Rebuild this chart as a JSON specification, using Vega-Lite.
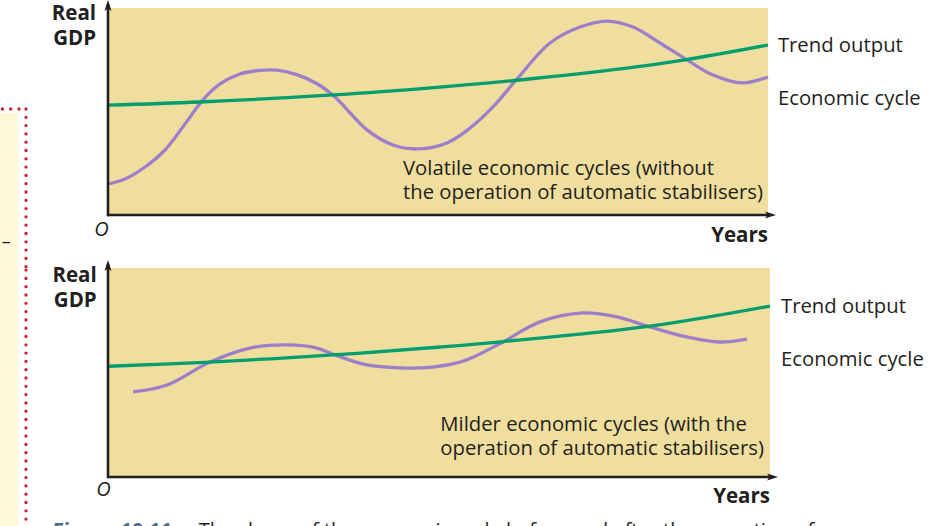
{
  "$schema": "https://vega.github.io/schema/vega-lite/v6.json",
  "background": "white",
  "padding": 0,
  "autosize": {"type": "pad"},
  "spacing": 53,
  "bounds": "flush",
  "config": {"view": {"stroke": null}, "font": "Open Sans"},
  "vconcat": [
    {
      "width": 660,
      "height": 207,
      "view": {"fill": "#F0DE9E", "stroke": null},
      "encoding": {
        "x": {"field": "x", "type": "quantitative", "scale": {"domain": [0, 100], "nice": false, "zero": false}, "axis": null},
        "y": {"field": "y", "type": "quantitative", "scale": {"domain": [0, 100], "nice": false, "zero": false}, "axis": null}
      },
      "layer": [
        {
          "data": {"values": [{"x": -16.36, "x2": -13.64, "y": 49.3, "y2": -25.6}]},
          "mark": {"type": "rect", "fill": "#FEF8D8"},
          "encoding": {"x2": {"field": "x2"}, "y2": {"field": "y2"}}
        },
        {
          "data": {"values": [{"x": -16.0, "x2": -12.42, "y": 51.2, "y2": 51.2}, {"x": -12.42, "x2": -12.42, "y": 51.2, "y2": -25.6}]},
          "mark": {"type": "rule", "color": "#D0212B", "strokeWidth": 3.3, "strokeDash": [0, 8.3], "strokeCap": "round"},
          "encoding": {"x2": {"field": "x2"}, "y2": {"field": "y2"}}
        },
        {
          "data": {"values": [{"x": -15.4, "y": -13.5, "label": "–"}]},
          "mark": {"type": "text", "fontSize": 18, "color": "#231F20", "align": "center", "baseline": "middle"},
          "encoding": {"text": {"field": "label"}}
        },
        {
          "data": {"values": [
            {"series": "cycle", "x": 0, "y": 14.98},
            {"series": "cycle", "x": 2.58, "y": 17.4},
            {"series": "cycle", "x": 5.61, "y": 23.2},
            {"series": "cycle", "x": 8.64, "y": 31.4},
            {"series": "cycle", "x": 11.67, "y": 44.0},
            {"series": "cycle", "x": 14.39, "y": 55.6},
            {"series": "cycle", "x": 16.97, "y": 63.3},
            {"series": "cycle", "x": 20.0, "y": 68.1},
            {"series": "cycle", "x": 22.73, "y": 69.8},
            {"series": "cycle", "x": 25.61, "y": 70.0},
            {"series": "cycle", "x": 28.6, "y": 67.8},
            {"series": "cycle", "x": 31.67, "y": 63.4},
            {"series": "cycle", "x": 34.39, "y": 57.0},
            {"series": "cycle", "x": 39.24, "y": 41.1},
            {"series": "cycle", "x": 43.18, "y": 33.8},
            {"series": "cycle", "x": 46.82, "y": 31.9},
            {"series": "cycle", "x": 51.36, "y": 34.8},
            {"series": "cycle", "x": 54.85, "y": 42.0},
            {"series": "cycle", "x": 58.33, "y": 52.2},
            {"series": "cycle", "x": 61.97, "y": 65.7},
            {"series": "cycle", "x": 66.97, "y": 83.1},
            {"series": "cycle", "x": 71.52, "y": 90.8},
            {"series": "cycle", "x": 75.61, "y": 93.7},
            {"series": "cycle", "x": 79.55, "y": 90.8},
            {"series": "cycle", "x": 83.64, "y": 83.1},
            {"series": "cycle", "x": 87.73, "y": 74.9},
            {"series": "cycle", "x": 91.67, "y": 67.6},
            {"series": "cycle", "x": 96.06, "y": 63.8},
            {"series": "cycle", "x": 100, "y": 66.7},
            {"series": "trend", "x": 0, "y": 53.1},
            {"series": "trend", "x": 13.9, "y": 54.6},
            {"series": "trend", "x": 34.1, "y": 58.0},
            {"series": "trend", "x": 50.3, "y": 61.8},
            {"series": "trend", "x": 62.0, "y": 65.1},
            {"series": "trend", "x": 78.6, "y": 70.9},
            {"series": "trend", "x": 87.4, "y": 74.9},
            {"series": "trend", "x": 100, "y": 82.1}
          ]},
          "mark": {"type": "line", "strokeWidth": 3.3, "interpolate": "catmull-rom"},
          "encoding": {
            "color": {"field": "series", "type": "nominal", "scale": {"domain": ["cycle", "trend"], "range": ["#9C7FCA", "#009D6E"]}, "legend": null}
          }
        },
        {
          "data": {"values": [{"x": 0, "x2": 0, "y": -0.63, "y2": 101.9}, {"x": 0, "x2": 100.3, "y": 0, "y2": 0}]},
          "mark": {"type": "rule", "color": "#231F20", "strokeWidth": 2.6},
          "encoding": {"x2": {"field": "x2"}, "y2": {"field": "y2"}}
        },
        {
          "data": {"values": [{"x": 0, "y": 101.2}]},
          "mark": {"type": "point", "shape": "M0,-1L0.65,1L0,0.55L-0.65,1Z", "size": 121, "filled": true, "color": "#231F20", "opacity": 1, "strokeWidth": 0}
        },
        {
          "data": {"values": [{"x": 100.38, "y": 0}]},
          "mark": {"type": "point", "shape": "M1,0L-1,0.65L-0.55,0L-1,-0.65Z", "size": 121, "filled": true, "color": "#231F20", "opacity": 1, "strokeWidth": 0}
        },
        {
          "data": {"values": [{"x": -1.8, "y": 94.2, "label": "Real"}, {"x": -1.8, "y": 82.1, "label": "GDP"}]},
          "mark": {"type": "text", "fontSize": 20.5, "fontWeight": "bold", "color": "#231F20", "align": "right", "baseline": "alphabetic"},
          "encoding": {"text": {"field": "label"}}
        },
        {
          "data": {"values": [{"x": 100, "y": -13.0, "label": "Years"}]},
          "mark": {"type": "text", "fontSize": 20.5, "fontWeight": "bold", "color": "#231F20", "align": "right", "baseline": "alphabetic"},
          "encoding": {"text": {"field": "label"}}
        },
        {
          "data": {"values": [{"x": -1.0, "y": -10.1, "label": "O"}]},
          "mark": {"type": "text", "fontSize": 20, "fontStyle": "italic", "color": "#231F20", "align": "center", "baseline": "alphabetic"},
          "encoding": {"text": {"field": "label"}}
        },
        {
          "data": {"values": [
            {"x": 101.5, "y": 78.7, "label": "Trend output"},
            {"x": 101.5, "y": 53.1, "label": "Economic cycle"},
            {"x": 44.7, "y": 19.3, "label": "Volatile economic cycles (without"},
            {"x": 44.7, "y": 7.5, "label": "the operation of automatic stabilisers)"}
          ]},
          "mark": {"type": "text", "fontSize": 20.3, "color": "#231F20", "align": "left", "baseline": "alphabetic"},
          "encoding": {"text": {"field": "label"}}
        }
      ]
    },
    {
      "width": 662,
      "height": 209,
      "view": {"fill": "#F0DE9E", "stroke": null},
      "encoding": {
        "x": {"field": "x", "type": "quantitative", "scale": {"domain": [0, 100], "nice": false, "zero": false}, "axis": null},
        "y": {"field": "y", "type": "quantitative", "scale": {"domain": [0, 100], "nice": false, "zero": false}, "axis": null}
      },
      "layer": [
        {
          "data": {"values": [{"x": -16.31, "x2": -13.6, "y": 100.5, "y2": -24}]},
          "mark": {"type": "rect", "fill": "#FEF8D8"},
          "encoding": {"x2": {"field": "x2"}, "y2": {"field": "y2"}}
        },
        {
          "data": {"values": [{"x": -12.39, "x2": -12.39, "y": 99, "y2": -24}]},
          "mark": {"type": "rule", "color": "#D0212B", "strokeWidth": 3.3, "strokeDash": [0, 8.3], "strokeCap": "round"},
          "encoding": {"x2": {"field": "x2"}, "y2": {"field": "y2"}}
        },
        {
          "data": {"values": [
            {"series": "cycle", "x": 3.78, "y": 40.7},
            {"series": "cycle", "x": 8.91, "y": 44.0},
            {"series": "cycle", "x": 15.41, "y": 55.0},
            {"series": "cycle", "x": 21.45, "y": 61.7},
            {"series": "cycle", "x": 27.04, "y": 63.2},
            {"series": "cycle", "x": 31.57, "y": 61.7},
            {"series": "cycle", "x": 34.29, "y": 58.4},
            {"series": "cycle", "x": 39.12, "y": 53.6},
            {"series": "cycle", "x": 44.11, "y": 52.2},
            {"series": "cycle", "x": 49.09, "y": 52.6},
            {"series": "cycle", "x": 53.17, "y": 55.0},
            {"series": "cycle", "x": 55.14, "y": 57.3},
            {"series": "cycle", "x": 59.67, "y": 64.6},
            {"series": "cycle", "x": 65.26, "y": 74.2},
            {"series": "cycle", "x": 71.75, "y": 78.5},
            {"series": "cycle", "x": 76.89, "y": 76.6},
            {"series": "cycle", "x": 81.87, "y": 71.8},
            {"series": "cycle", "x": 87.46, "y": 67.0},
            {"series": "cycle", "x": 92.45, "y": 64.6},
            {"series": "cycle", "x": 96.53, "y": 66.0},
            {"series": "trend", "x": 0, "y": 53.0},
            {"series": "trend", "x": 15.4, "y": 55.0},
            {"series": "trend", "x": 34.0, "y": 58.4},
            {"series": "trend", "x": 50.2, "y": 62.2},
            {"series": "trend", "x": 59.7, "y": 64.8},
            {"series": "trend", "x": 81.9, "y": 72.2},
            {"series": "trend", "x": 100, "y": 81.8}
          ]},
          "mark": {"type": "line", "strokeWidth": 3.3, "interpolate": "catmull-rom"},
          "encoding": {
            "color": {"field": "series", "type": "nominal", "scale": {"domain": ["cycle", "trend"], "range": ["#9C7FCA", "#009D6E"]}, "legend": null}
          }
        },
        {
          "data": {"values": [{"x": 0, "x2": 0, "y": -0.62, "y2": 101.9}, {"x": 0, "x2": 100.3, "y": 0, "y2": 0}]},
          "mark": {"type": "rule", "color": "#231F20", "strokeWidth": 2.6},
          "encoding": {"x2": {"field": "x2"}, "y2": {"field": "y2"}}
        },
        {
          "data": {"values": [{"x": 0, "y": 101.2}]},
          "mark": {"type": "point", "shape": "M0,-1L0.65,1L0,0.55L-0.65,1Z", "size": 121, "filled": true, "color": "#231F20", "opacity": 1, "strokeWidth": 0}
        },
        {
          "data": {"values": [{"x": 100.38, "y": 0}]},
          "mark": {"type": "point", "shape": "M1,0L-1,0.65L-0.55,0L-1,-0.65Z", "size": 121, "filled": true, "color": "#231F20", "opacity": 1, "strokeWidth": 0}
        },
        {
          "data": {"values": [{"x": -1.7, "y": 93.4, "label": "Real"}, {"x": -1.7, "y": 81.5, "label": "GDP"}]},
          "mark": {"type": "text", "fontSize": 20.5, "fontWeight": "bold", "color": "#231F20", "align": "right", "baseline": "alphabetic"},
          "encoding": {"text": {"field": "label"}}
        },
        {
          "data": {"values": [{"x": 100, "y": -12.3, "label": "Years"}]},
          "mark": {"type": "text", "fontSize": 20.5, "fontWeight": "bold", "color": "#231F20", "align": "right", "baseline": "alphabetic"},
          "encoding": {"text": {"field": "label"}}
        },
        {
          "data": {"values": [{"x": -0.7, "y": -9.1, "label": "O"}]},
          "mark": {"type": "text", "fontSize": 20, "fontStyle": "italic", "color": "#231F20", "align": "center", "baseline": "alphabetic"},
          "encoding": {"text": {"field": "label"}}
        },
        {
          "data": {"values": [
            {"x": 101.66, "y": 78.6, "label": "Trend output"},
            {"x": 101.66, "y": 53.1, "label": "Economic cycle"},
            {"x": 50.2, "y": 22.1, "label": "Milder economic cycles (with the"},
            {"x": 50.2, "y": 10.5, "label": "operation of automatic stabilisers)"}
          ]},
          "mark": {"type": "text", "fontSize": 20.3, "color": "#231F20", "align": "left", "baseline": "alphabetic"},
          "encoding": {"text": {"field": "label"}}
        },
        {
          "data": {"values": [{"x": -8.3, "y": -28.7, "label": "Figure 10.11"}]},
          "mark": {"type": "text", "fontSize": 20, "fontWeight": "bold", "color": "#4F6B88", "align": "left", "baseline": "alphabetic"},
          "encoding": {"text": {"field": "label"}}
        },
        {
          "data": {"values": [{"x": 13.7, "y": -28.7, "label": "The shape of the economic cycle before and after the operation of"}]},
          "mark": {"type": "text", "fontSize": 20, "color": "#231F20", "align": "left", "baseline": "alphabetic", "limit": 740, "ellipsis": ""},
          "encoding": {"text": {"field": "label"}}
        }
      ]
    }
  ]
}
